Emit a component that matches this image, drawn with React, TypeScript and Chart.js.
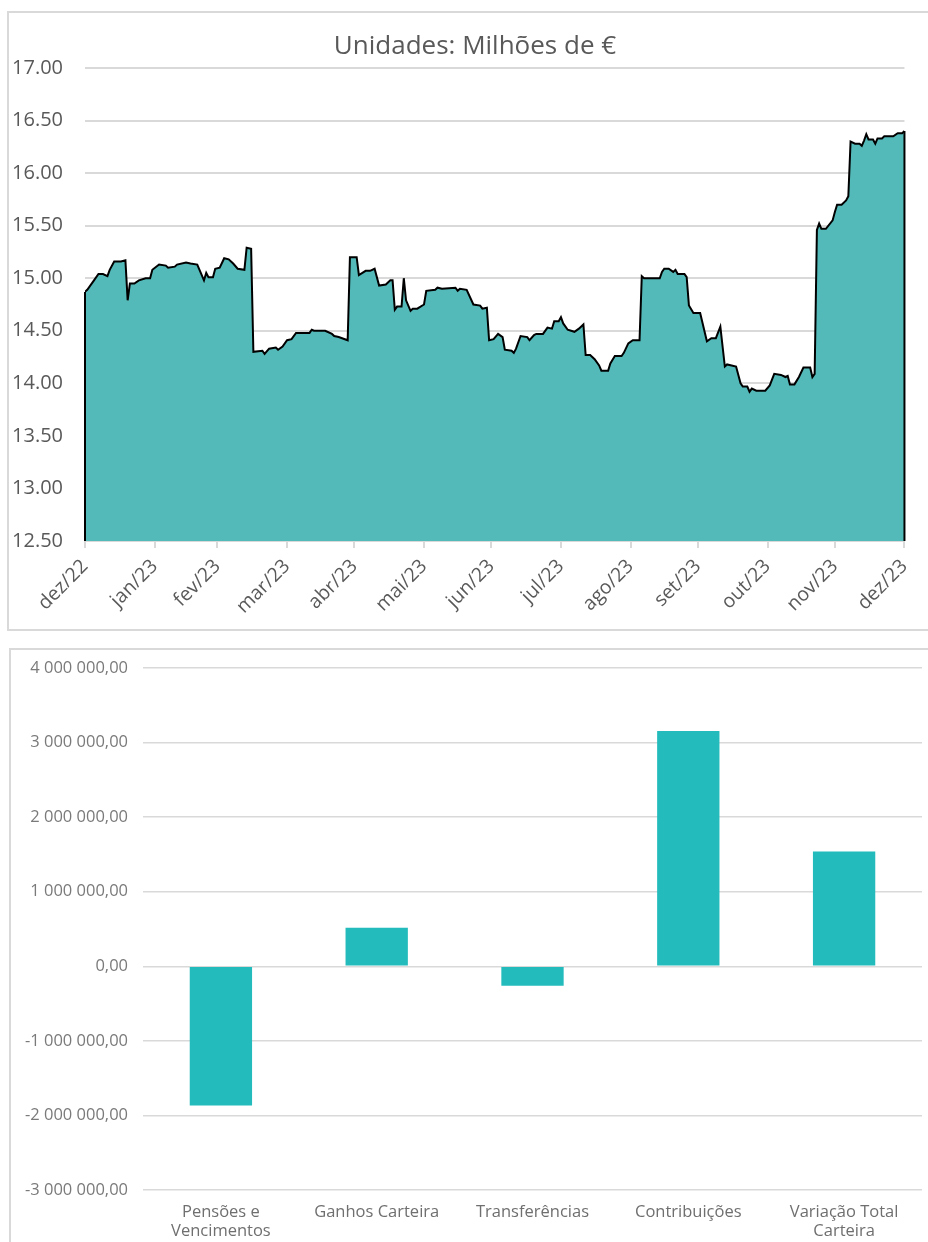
import React, { useEffect, useRef } from "react";
import { Chart, registerables } from "chart.js";

Chart.register(...registerables);
Chart.defaults.font.family = "'Open Sans', sans-serif";

// ---------- Top chart data (days since 31 Dec 2022, value in millions €) ----------
const dayIndex = [
  0, 1, 4, 6, 8, 10, 11, 13, 16, 18, 19, 20, 22, 24, 27, 29, 30, 33, 36, 37, 40, 41, 45, 47, 50,
  53, 54, 55, 57, 58, 60, 62, 64, 66, 68, 71, 72, 74, 75, 79, 80, 82, 85, 86, 88, 90, 92, 94, 99,
  100, 101, 102, 107, 110, 111, 113, 117, 118, 121, 122, 125, 127, 129, 131, 134, 136, 137, 138,
  139, 141, 142, 143, 145, 146, 148, 151, 152, 156, 157, 159, 165, 166, 167, 170, 173, 176, 177,
  179, 180, 182, 184, 186, 187, 190, 191, 192, 194, 197, 198, 200, 201, 204, 206, 208, 209, 211,
  212, 213, 215, 218, 220, 222, 223, 225, 227, 229, 230, 233, 234, 236, 239, 240, 242, 244, 247,
  248, 249, 251, 256, 257, 258, 260, 262, 263, 264, 267, 268, 269, 271, 274, 277, 279, 281, 283,
  285, 286, 290, 292, 293, 295, 296, 297, 299, 303, 305, 307, 310, 312, 313, 314, 316, 318, 320,
  323, 324, 325, 326, 327, 328, 330, 333, 334, 335, 337, 339, 340, 341, 343, 345, 346, 347, 348,
  349, 351, 352, 353, 355, 356, 360, 362, 364, 365,
];
const portfolioValue = [
  14.87, 14.89, 14.98, 15.04, 15.04, 15.02, 15.08, 15.16, 15.16, 15.17, 14.79, 14.95, 14.95, 14.98,
  15.0, 15.0, 15.08, 15.13, 15.12, 15.1, 15.11, 15.13, 15.15, 15.14, 15.13,
  14.98, 15.05, 15.01, 15.01, 15.09, 15.1, 15.19, 15.18, 15.14, 15.09, 15.08, 15.29, 15.28, 14.3,
  14.31, 14.28, 14.33, 14.34, 14.32, 14.35, 14.41, 14.42, 14.48, 14.48,
  14.48, 14.51, 14.5, 14.5, 14.47, 14.45, 14.44, 14.41, 15.2, 15.2, 15.03, 15.07, 15.07, 15.09,
  14.93, 14.94, 14.98, 14.98, 14.7,
  14.73, 14.73, 15.0, 14.79, 14.69, 14.71, 14.71, 14.75, 14.88, 14.89, 14.91, 14.9, 14.91, 14.88,
  14.9, 14.89, 14.75, 14.74, 14.71,
  14.72, 14.41, 14.42, 14.47, 14.44, 14.32, 14.31, 14.29, 14.33, 14.45, 14.44, 14.41, 14.46, 14.47,
  14.47, 14.53, 14.52, 14.59, 14.59,
  14.63, 14.57, 14.51, 14.49, 14.52, 14.56, 14.27, 14.27, 14.23, 14.17, 14.12, 14.12, 14.19, 14.26,
  14.26, 14.29, 14.38, 14.41, 14.41,
  15.02, 15.0, 15.0, 15.0, 15.06, 15.09, 15.09, 15.06, 15.08, 15.04, 15.04, 15.01, 14.74, 14.67,
  14.67, 14.4, 14.43, 14.43, 14.54,
  14.16, 14.18, 14.16, 14.0, 13.97, 13.97, 13.92, 13.95, 13.93, 13.93, 13.98, 14.09, 14.08, 14.06,
  14.07, 13.99, 13.99, 14.06, 14.15,
  14.15, 14.06, 14.09, 15.46, 15.52, 15.47, 15.47, 15.55, 15.63, 15.7, 15.7, 15.74, 15.78, 16.3,
  16.28, 16.28, 16.26, 16.31, 16.37,
  16.32, 16.32, 16.28, 16.33, 16.33, 16.35, 16.35, 16.38, 16.38, 16.4,
];
const monthTickDays = [0, 31, 59, 90, 120, 151, 181, 212, 243, 273, 304, 334, 365];
const monthLabels = [
  "dez/22", "jan/23", "fev/23", "mar/23", "abr/23", "mai/23", "jun/23",
  "jul/23", "ago/23", "set/23", "out/23", "nov/23", "dez/23",
];
const topTitle = "Unidades: Milhões de €";

// ---------- Bottom chart data ----------
const flowCategories: (string | string[])[] = [
  ["Pensões e", "Vencimentos"],
  "Ganhos Carteira",
  "Transferências",
  "Contribuições",
  ["Variação Total", "Carteira"],
];
const flowValues = [-1866000, 518000, -262000, 3156000, 1539000];

function fmtPt(v: number): string {
  const neg = v < 0;
  const s = Math.abs(v).toFixed(2);
  const [intPart, dec] = s.split(".");
  const grouped = intPart.replace(/\B(?=(\d{3})+(?!\d))/g, " ");
  return (neg ? "-" : "") + grouped + "," + dec;
}

const edgePlugin = {
  id: "areaEdges",
  afterDatasetsDraw(chart: any) {
    const meta = chart.getDatasetMeta(0);
    const pts = meta.data;
    if (!pts || !pts.length) return;
    const ctx = chart.ctx;
    const bottom = chart.chartArea.bottom;
    ctx.save();
    ctx.strokeStyle = "#000";
    ctx.lineWidth = 2;
    [pts[0], pts[pts.length - 1]].forEach((p: any) => {
      ctx.beginPath();
      ctx.moveTo(p.x, p.y);
      ctx.lineTo(p.x, bottom);
      ctx.stroke();
    });
    ctx.restore();
  },
};

const titlePlugin = {
  id: "shiftedTitle",
  afterDraw(chart: any) {
    const ctx = chart.ctx;
    ctx.save();
    ctx.fillStyle = "#595959";
    ctx.font = "26px 'Open Sans', sans-serif";
    ctx.textAlign = "center";
    ctx.textBaseline = "middle";
    ctx.fillText(topTitle, chart.width / 2 + 7, 35);
    ctx.restore();
  },
};

function TopChart() {
  const ref = useRef<HTMLCanvasElement>(null);
  useEffect(() => {
    if (!ref.current) return;
    const chart = new Chart(ref.current, {
      type: "line",
      data: {
        datasets: [
          {
            data: dayIndex.map((d, i) => ({ x: d, y: portfolioValue[i] })),
            borderColor: "#000000",
            borderWidth: 2,
            backgroundColor: "#54BAB9",
            fill: "start",
            pointRadius: 0,
            tension: 0,
          },
        ],
      },
      options: {
        responsive: false,
        animation: false,
        layout: { padding: { left: 0, right: 22, top: 56, bottom: 0 } },
        plugins: {
          legend: { display: false },
          tooltip: { enabled: false },
          title: { display: false },
        },
        scales: {
          x: {
            type: "linear",
            min: 0,
            max: 365,
            afterBuildTicks: (scale: any) => {
              scale.ticks = monthTickDays.map((v) => ({ value: v }));
            },
            afterFit: (scale: any) => {
              scale.height = 91;
            },
            ticks: {
              autoSkip: false,
              maxRotation: 45,
              minRotation: 45,
              padding: 7,
              color: "#595959",
              font: { size: 19.5 },
              callback: (_v: any, i: number) => monthLabels[i],
            },
            grid: {
              drawOnChartArea: false,
              drawTicks: true,
              tickLength: 7,
              color: "#d9d9d9",
              lineWidth: 2,
            },
            border: { color: "#d9d9d9", width: 2 },
          },
          y: {
            min: 12.5,
            max: 17,
            afterFit: (scale: any) => {
              scale.width = 77;
            },
            ticks: {
              stepSize: 0.5,
              padding: 22,
              color: "#595959",
              font: { size: 20 },
              callback: (v: any) => Number(v).toFixed(2),
            },
            grid: { drawTicks: false, color: "#d9d9d9", lineWidth: 2 },
            border: { display: false },
          },
        },
      },
      plugins: [edgePlugin, titlePlugin],
    } as any);
    return () => chart.destroy();
  }, []);
  return <canvas ref={ref} width={920} height={620} style={{ display: "block" }} />;
}

function BottomChart() {
  const ref = useRef<HTMLCanvasElement>(null);
  useEffect(() => {
    if (!ref.current) return;
    const chart = new Chart(ref.current, {
      type: "bar",
      data: {
        labels: flowCategories,
        datasets: [
          {
            data: flowValues,
            backgroundColor: "#23BBBB",
            borderWidth: 0,
            barPercentage: 0.4,
            categoryPercentage: 1,
          },
        ],
      },
      options: {
        responsive: false,
        animation: false,
        layout: { padding: { left: 0, right: 6, top: 19, bottom: 0 } },
        plugins: {
          legend: { display: false },
          tooltip: { enabled: false },
        },
        scales: {
          x: {
            afterFit: (scale: any) => {
              scale.height = 52;
            },
            ticks: {
              padding: 4,
              color: "#6f6f6f",
              font: { size: 16.5 },
              maxRotation: 0,
              autoSkip: false,
            },
            grid: { display: false },
            border: { display: false },
          },
          y: {
            min: -3000000,
            max: 4000000,
            afterFit: (scale: any) => {
              scale.width = 133;
              scale.paddingTop = 0;
              scale.paddingBottom = 0;
            },
            ticks: {
              stepSize: 1000000,
              padding: 15,
              color: "#7a7a7a",
              font: { size: 16.5 },
              callback: (v: any) => fmtPt(Number(v)),
            },
            grid: { drawTicks: false, color: "#d9d9d9", lineWidth: 1.5 },
            border: { display: false },
          },
        },
      },
    } as any);
    return () => chart.destroy();
  }, []);
  return <canvas ref={ref} width={918} height={593} style={{ display: "block" }} />;
}

export default function App() {
  return (
    <div
      style={{
        position: "fixed",
        left: 0,
        top: 0,
        width: 928,
        height: 1242,
        overflow: "hidden",
        background: "#ffffff",
      }}
    >
      <div
        style={{
          position: "absolute",
          left: 7,
          top: 11,
          width: 940,
          height: 620,
          border: "2px solid #d9d9d9",
          boxSizing: "border-box",
        }}
      />
      <div style={{ position: "absolute", left: 8, top: 12 }}>
        <TopChart />
      </div>
      <div
        style={{
          position: "absolute",
          left: 9,
          top: 648,
          width: 940,
          height: 620,
          border: "2px solid #d9d9d9",
          boxSizing: "border-box",
        }}
      />
      <div style={{ position: "absolute", left: 10, top: 649 }}>
        <BottomChart />
      </div>
    </div>
  );
}
